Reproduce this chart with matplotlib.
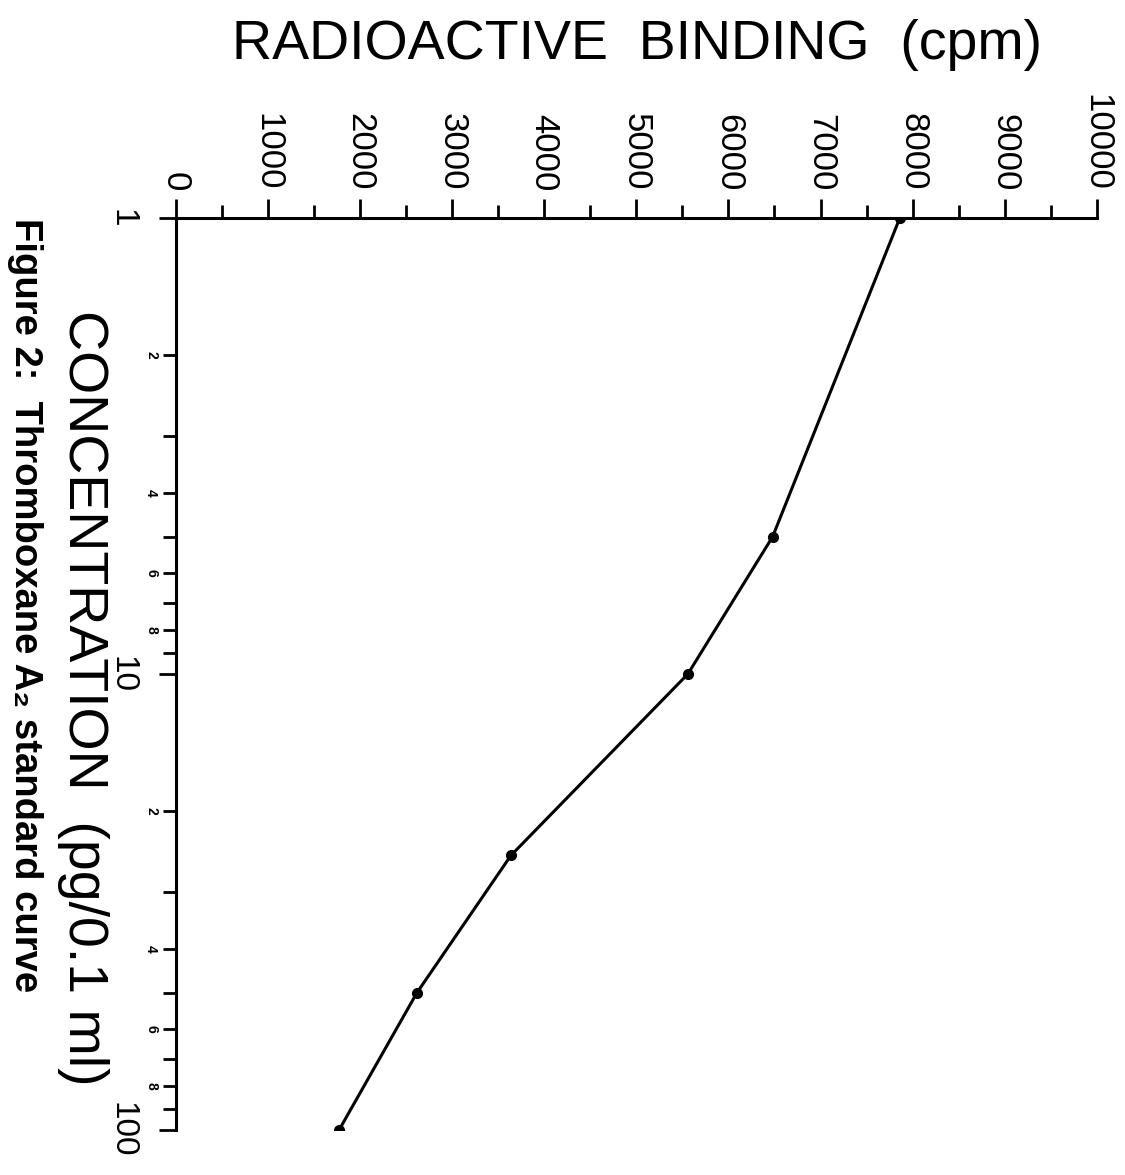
import matplotlib
matplotlib.use("Agg")
import matplotlib.pyplot as plt
from matplotlib.ticker import FixedLocator, FuncFormatter, MultipleLocator

# Thromboxane A2 standard curve (figure is printed rotated 90 degrees)
concentration = [1, 5, 10, 25, 50, 100]          # pg/0.1 ml
binding_cpm = [7860, 6480, 5560, 3640, 2620, 1775]

cpm_ticks = list(range(0, 10001, 1000))
conc_major = [1, 10, 100]
conc_minor = [m * d for d in (1, 10) for m in range(2, 10)]
minor_labelled = {2, 4, 6, 8}

plt.rcParams["font.family"] = ["Liberation Sans", "DejaVu Sans"]

W, H = 1125, 1175
fig = plt.figure(figsize=(W / 100, H / 100), dpi=100)
ax = fig.add_axes([175.5 / W, 1 - 1130 / H, 921.5 / W, 912 / H])

ax.plot(binding_cpm, concentration, color="black", lw=2.2,
        marker="o", ms=7, mfc="black", mec="black")

ax.set_yscale("log")
ax.set_xlim(0, 10000)
ax.set_ylim(100, 1)

for side in ("right", "bottom"):
    ax.spines[side].set_visible(False)
for side in ("top", "left"):
    ax.spines[side].set_linewidth(2.2)

# cpm axis on top, labels rotated like the page
ax.xaxis.tick_top()
ax.set_xticks(cpm_ticks)
ax.xaxis.set_minor_locator(MultipleLocator(500))
ax.tick_params(axis="x", which="major", length=13.5, width=2, pad=6,
               labelsize=25, labelrotation=-90)
ax.tick_params(axis="x", which="minor", length=9.5, width=2)

# concentration axis (log), left side
ax.yaxis.set_major_locator(FixedLocator(conc_major))
ax.yaxis.set_minor_locator(FixedLocator(conc_minor))
ax.yaxis.set_major_formatter(FuncFormatter(lambda v, p: f"{v:g}"))


def minor_fmt(v, pos):
    lead = int(round(v / 10 ** int(len(str(int(round(v)))) - 1)))
    return str(lead) if lead in minor_labelled else ""


ax.yaxis.set_minor_formatter(FuncFormatter(minor_fmt))
ax.tick_params(axis="y", which="major", length=12.5, width=2, pad=15,
               labelsize=24, labelrotation=-90)
ax.tick_params(axis="y", which="minor", length=9.5, width=2, pad=3,
               labelsize=10, labelrotation=-90)
for lab in ax.get_yticklabels() + ax.get_yticklabels(minor=True):
    lab.set_va("center")
for lab in ax.get_yticklabels(minor=True):
    lab.set_fontweight("bold")

fig.text(637 / W, 1 - 45 / H, "RADIOACTIVE  BINDING  (cpm)",
         ha="center", va="center", fontsize=40,
         family=["Liberation Sans Narrow", "Liberation Sans", "DejaVu Sans"])
fig.text(83 / W, 1 - 698 / H, "CONCENTRATION  (pg/0.1 ml)",
         ha="center", va="center", rotation=-90, fontsize=40)
fig.text(7 / W, 1 - 218 / H, "Figure 2:  Thromboxane A\u2082 standard curve",
         ha="left", va="top", rotation=-90, fontsize=27.5, fontweight="bold")

fig.savefig("out.png", dpi=100)
